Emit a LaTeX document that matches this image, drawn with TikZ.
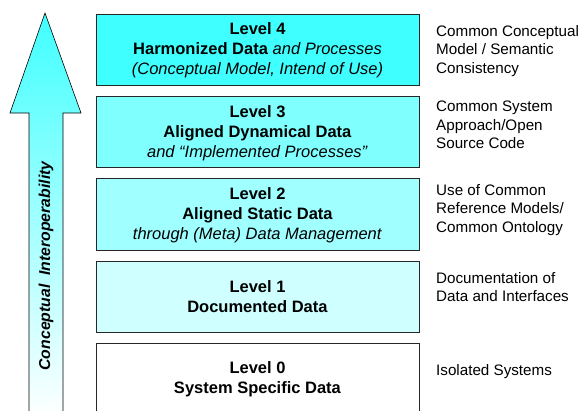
\documentclass[tikz,border=0pt]{standalone}
\usepackage{fontspec}
\setmainfont{Liberation Sans}
\begin{document}
\begin{tikzpicture}[x=1pt,y=-1pt,
  lvl/.style={draw=black!85, line width=1pt},
  lvltext/.style={align=center, font=\fontsize{16.5}{20}\selectfont, inner sep=0pt},
  desc/.style={anchor=west, align=left, font=\fontsize{15.2}{18.5}\selectfont, inner sep=0pt}]
\useasboundingbox (0,0) rectangle (581,410);
\definecolor{c4}{RGB}{64,255,255}
\definecolor{c3}{RGB}{128,255,255}
\definecolor{c2}{RGB}{160,255,255}
\definecolor{c1}{RGB}{208,255,255}
% arrow
\shade[top color=c4, bottom color=white, draw=black, line width=0.6pt]
  (45,13) -- (81,113) -- (63,113) -- (63,420) -- (29,420) -- (29,113) -- (10,113) -- cycle;
\node[rotate=90, font=\fontsize{15.8}{16}\selectfont\bfseries\itshape, inner sep=0pt] (ci) at (46,266) {Conceptual\ \ Interoperability};
% boxes
\draw[lvl, fill=c4] (96,14) rectangle (419,85);
\draw[lvl, fill=c3] (96,96) rectangle (419,167);
\draw[lvl, fill=c2] (96,178) rectangle (419,250);
\draw[lvl, fill=c1] (96,261) rectangle (419,332);
\draw[lvl, fill=white] (96,343) rectangle (419,420);
\node[lvltext] (l4) at (257.5,50) {\textbf{Level 4}\\\textbf{Harmonized Data} \textit{and Processes}\\\textit{(Conceptual Model, Intend of Use)}};
\node[lvltext] (l3) at (257.5,133) {\textbf{Level 3}\\\textbf{Aligned Dynamical Data}\\\textit{and “Implemented Processes”}};
\node[lvltext] (l2) at (257.5,215) {\textbf{Level 2}\\\textbf{Aligned Static Data}\\\textit{through (Meta) Data Management}};
\node[lvltext] (l1) at (257.5,297) {\textbf{Level 1}\\\textbf{Documented Data}};
\node[lvltext] (l0) at (257.5,379) {\textbf{Level 0}\\\textbf{System Specific Data}};
% descriptions
\node[desc] (d4) at (436,51) {Common Conceptual\\Model / Semantic\\Consistency};
\node[desc] (d3) at (436,125) {Common System\\Approach/Open\\Source Code};
\node[desc] (d2) at (436,210) {Use of Common\\Reference Models/\\Common Ontology};
\node[desc] (d1) at (436,287) {Documentation of\\Data and Interfaces};
\node[desc] (d0) at (436,372) {Isolated Systems};
\end{tikzpicture}
\end{document}
